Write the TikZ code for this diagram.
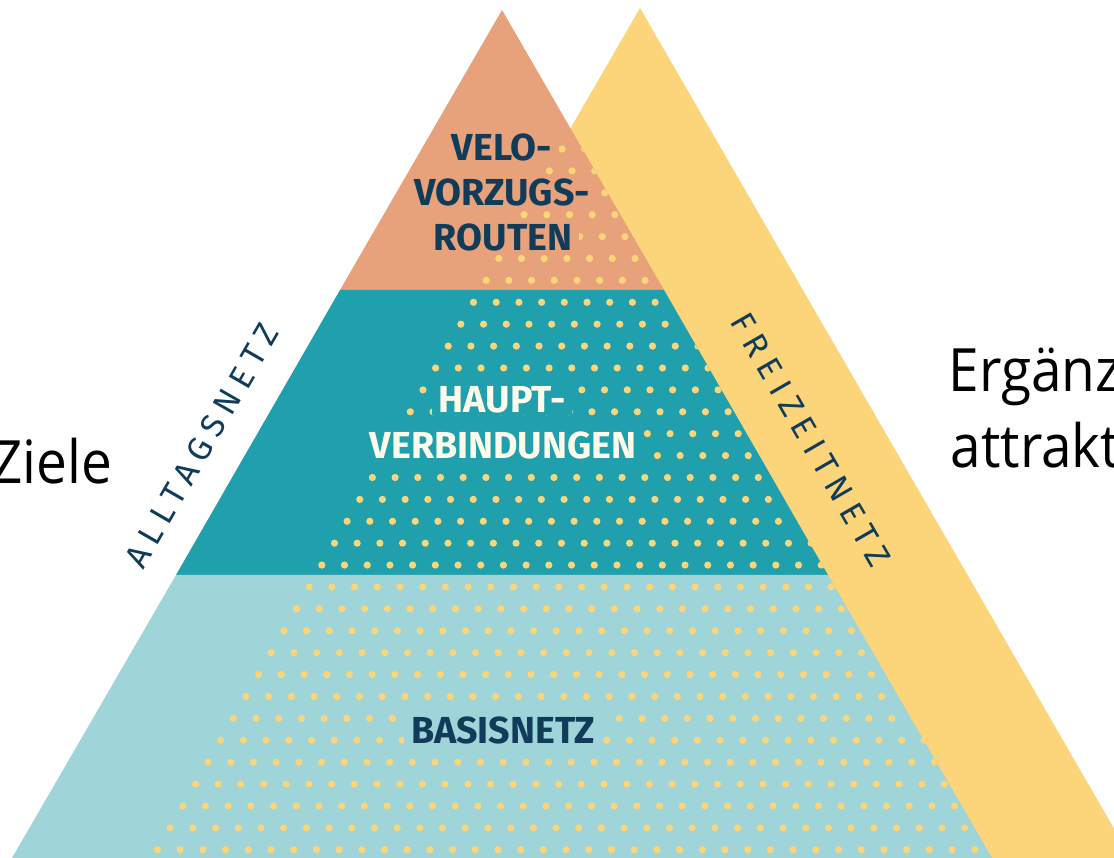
\documentclass[tikz,border=0pt]{standalone}
\usepackage{fontspec}
\setmainfont{Fira Sans}
\newfontfamily\calloutfont[FakeStretch=0.92]{Open Sans}
\newfontfamily\edgefont[LetterSpace=23]{Fira Sans}
\definecolor{apricot}{RGB}{232, 162, 123}
\definecolor{lagoon}{RGB}{31, 160, 172}
\definecolor{glacier}{RGB}{159, 212, 217}
\definecolor{sunflower}{RGB}{252, 212, 121}
\definecolor{midnight}{RGB}{16, 60, 90}
\definecolor{ivory}{RGB}{254, 251, 234}

\begin{document}
\begin{tikzpicture}[
            tier/.style={font=\fontsize{10.7}{12.8}\selectfont\bfseries, inner xsep=2pt, inner ysep=0.6pt},
            edgelabel/.style={font=\edgefont\fontsize{9.5}{11}\selectfont, text=midnight, inner sep=0pt},
            callout/.style={font=\calloutfont\fontsize{17}{21}\selectfont, text=black, inner sep=0pt}
        ]
            \useasboundingbox (0.00, 0.00) rectangle (11.14, 8.58);
            \clip              (0.00, 0.00) rectangle (11.14, 8.58);
            \fill[sunflower] ( 6.40, 8.50) -- (11.31, 0.00) -- ( 1.49, 0.00) -- cycle;
            \fill[apricot]   ( 5.02, 8.48) -- ( 6.64, 5.68) -- ( 3.40, 5.68) -- cycle;
            \fill[lagoon]    ( 3.40, 5.68) -- ( 6.64, 5.68) -- ( 8.28, 2.83) -- ( 1.76, 2.83) -- cycle;
            \fill[glacier]   ( 1.76, 2.83) -- ( 8.28, 2.83) -- ( 9.92, 0.00) -- ( 0.12, 0.00) -- cycle;
            \begin{scope}
                \clip ( 5.02, 8.48) -- ( 9.92, 0.00) -- ( 0.12, 0.00) -- cycle;
                \foreach \i in {0,...,32}{
                    \pgfmathtruncatemacro{\n}{1.12*\i+1}
                    \foreach \k in {0,...,\n}
                        \fill[sunflower] (5.62-0.1264*\i+0.227*\k, 7.09-0.219*\i) circle (0.036);
                }
            \end{scope}
            \node[tier, text=midnight, fill=apricot] (velo)         at ( 5.02, 7.11) {VELO-};
            \node[tier, text=midnight, fill=apricot] (vorzugs)      at ( 5.02, 6.66) {VORZUGS-};
            \node[tier, text=midnight, fill=apricot] (routen)       at ( 5.03, 6.21) {ROUTEN};
            \node[tier, text=ivory,    fill=lagoon]  (haupt)        at ( 5.02, 4.58) {HAUPT-};
            \node[tier, text=ivory,    fill=lagoon]  (verbindungen) at ( 5.03, 4.13) {VERBINDUNGEN};
            \node[tier, text=midnight, fill=glacier] (basisnetz)    at ( 5.03, 1.28) {BASISNETZ};
            \node[edgelabel, rotate=60]  (alltagsnetz)  at ( 2.02, 4.12) {ALLTAGSNETZ};
            \node[edgelabel, rotate=-60] (freizeitnetz) at ( 8.11, 4.18) {FREIZEITNETZ};
            \node[callout, anchor=base east] (ziele)   at ( 1.13, 3.74) {Ziele};
            \node[callout, anchor=base west] (ergaenz) at ( 9.48, 4.66) {Ergänz};
            \node[callout, anchor=base west] (attrakt) at ( 9.50, 3.90) {attrakt};
        \end{tikzpicture}
\end{document}
